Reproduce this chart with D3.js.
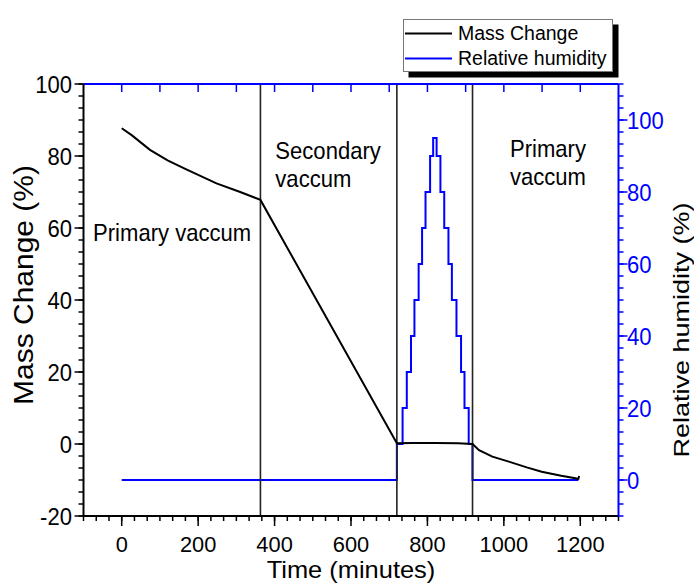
<!DOCTYPE html>
<html><head><meta charset="utf-8">
<script src="https://cdn.jsdelivr.net/npm/d3@7"></script>
<style>
html,body{margin:0;padding:0;background:#fff;}
svg{display:block;font-family:"Liberation Sans",Arial,sans-serif;}
</style></head>
<body>
<svg id="chart" width="694" height="583"></svg>
<script>
// ---- data ----
const massTime  = [0, 26, 74, 120, 169, 248, 310, 363, 720, 760, 820, 880, 918, 935, 970, 1013, 1060, 1099, 1150, 1187, 1195, 1197];
const massValue = [87.7, 85.8, 81.7, 78.8, 76.3, 72.4, 70.0, 67.8, 0.2, 0.3, 0.3, 0.2, 0.0, -1.7, -3.5, -4.9, -6.5, -7.7, -8.8, -9.5, -9.7, -8.9];
const rhTime  = [0, 720, 735, 746, 757, 766, 777, 786, 795, 807, 815, 824, 834, 844, 855, 864, 876, 888, 897, 908, 918, 1195];
const rhValue = [0, 10, 20, 30, 40, 50, 60, 70, 80, 90, 95, 90, 80, 70, 60, 50, 40, 30, 20, 10, 0, 0];
const phaseBounds = [363, 720, 918];
const xTicks  = [0, 200, 400, 600, 800, 1000, 1200];
const yLTicks = [-20, 0, 20, 40, 60, 80, 100];
const yRTicks = [0, 20, 40, 60, 80, 100];
const legendLabels = ["Mass Change", "Relative humidity"];

// ---- layout ----
const svg = d3.select("#chart");
const L = 83.5, R = 618.5, T = 84, B = 516;
const SX = 0.92; // horizontal glyph compression
const x  = d3.scaleLinear().domain([-100, 1300]).range([L, R]);
const yL = d3.scaleLinear().domain([-20, 100]).range([B, T]);
const yR = d3.scaleLinear().domain([-10, 110]).range([B, T]);
const BLUE = "#0000ff";

function text(g, px, py, s, size, anchor, color, rot, sx) {
  return g.append("text")
    .attr("transform", `translate(${px},${py}) scale(${sx || SX},1)` + (rot ? ` rotate(${rot})` : ""))
    .attr("text-anchor", anchor || "start")
    .attr("font-size", size)
    .attr("fill", color || "#000")
    .text(s);
}

const step = 20 / 6;
const minorRange = (a, b, st) => d3.range(Math.ceil(a / st - 1e-9), Math.floor(b / st + 1e-9) + 1).map(k => k * st);

// ---- data lines ----
const rhLine = d3.line().x((d, i) => x(rhTime[i])).y((d, i) => yR(rhValue[i])).curve(d3.curveStepAfter);
svg.append("path").attr("d", rhLine(rhTime)).attr("fill", "none").attr("stroke", BLUE).attr("stroke-width", 2);

// phase boundaries
svg.selectAll("line.phase").data(phaseBounds).enter().append("line")
  .attr("x1", d => x(d)).attr("x2", d => x(d)).attr("y1", T).attr("y2", B)
  .attr("stroke", "#222").attr("stroke-width", 1.6);

const massLine = d3.line().x((d, i) => x(massTime[i])).y((d, i) => yL(massValue[i]));
svg.append("path").attr("d", massLine(massTime)).attr("fill", "none").attr("stroke", "#000").attr("stroke-width", 2);

// ---- axes ----
const ax = svg.append("g");
// bottom
ax.append("line").attr("x1", L).attr("x2", R).attr("y1", B).attr("y2", B).attr("stroke", "#000").attr("stroke-width", 2);
const xMinor = minorRange(-100, 1300, 200 / 6);
ax.selectAll("line.xm").data(xMinor).enter().append("line")
  .attr("x1", d => x(d)).attr("x2", d => x(d)).attr("y1", B).attr("y2", B + 5).attr("stroke", "#000").attr("stroke-width", 1.5);
ax.selectAll("line.xM").data(xTicks).enter().append("line")
  .attr("x1", d => x(d)).attr("x2", d => x(d)).attr("y1", B).attr("y2", B + 10).attr("stroke", "#000").attr("stroke-width", 1.5);
xTicks.forEach(v => text(ax, x(v), 551.5, String(v), 22.5, "middle", "#000", 0, 0.97));
text(ax, (L + R) / 2, 578, "Time (minutes)", 24, "middle", "#000", 0, 1.06);

// top (blue)
ax.append("line").attr("x1", L).attr("x2", R).attr("y1", T).attr("y2", T).attr("stroke", BLUE).attr("stroke-width", 2);
ax.selectAll("line.top").data(d3.range(0, 1201, 100)).enter().append("line")
  .attr("x1", d => x(d)).attr("x2", d => x(d)).attr("y1", T).attr("y2", T + 8).attr("stroke", BLUE).attr("stroke-width", 1.5);

// left
ax.append("line").attr("x1", L).attr("x2", L).attr("y1", T).attr("y2", B).attr("stroke", "#000").attr("stroke-width", 2);
ax.selectAll("line.lm").data(minorRange(-20, 100, step)).enter().append("line")
  .attr("x1", L - 5).attr("x2", L).attr("y1", d => yL(d)).attr("y2", d => yL(d)).attr("stroke", "#000").attr("stroke-width", 1.5);
ax.selectAll("line.lM").data(yLTicks).enter().append("line")
  .attr("x1", L - 9).attr("x2", L).attr("y1", d => yL(d)).attr("y2", d => yL(d)).attr("stroke", "#000").attr("stroke-width", 1.5);
yLTicks.forEach(v => text(ax, 72, yL(v) + 8.5, String(v), 24, "end"));
text(ax, 33, 285, "Mass Change (%)", 30, "middle", "#000", -90);

// right (blue)
ax.append("line").attr("x1", R).attr("x2", R).attr("y1", T).attr("y2", B).attr("stroke", BLUE).attr("stroke-width", 2);
ax.selectAll("line.rm").data(minorRange(-10, 110, step)).enter().append("line")
  .attr("x1", R).attr("x2", R + 5).attr("y1", d => yR(d)).attr("y2", d => yR(d)).attr("stroke", BLUE).attr("stroke-width", 1.5);
ax.selectAll("line.rM").data(yRTicks).enter().append("line")
  .attr("x1", R).attr("x2", R + 9).attr("y1", d => yR(d)).attr("y2", d => yR(d)).attr("stroke", BLUE).attr("stroke-width", 1.5);
yRTicks.forEach(v => text(ax, 627, yR(v) + 8.5, String(v), 24, "start", BLUE));
text(ax, 689, 330, "Relative humidity (%)", 27, "middle", "#000", -90, 0.82);

// ---- annotations ----
const ann = svg.append("g");
text(ann, x(-75), yL((444 - 241) / 3.6), "Primary vaccum", 24, "start");
text(ann, x(402), yL((444 - 159) / 3.6), "Secondary", 24, "start");
text(ann, x(402), yL((444 - 187) / 3.6), "vaccum", 24, "start");
text(ann, x(1016), yL((444 - 157) / 3.6), "Primary", 24, "start");
text(ann, x(1016), yL((444 - 185) / 3.6), "vaccum", 24, "start");

// ---- legend ----
const lg = svg.append("g");
lg.append("rect").attr("x", 408.5).attr("y", 24.5).attr("width", 210).attr("height", 53).attr("fill", "#000");
lg.append("rect").attr("x", 403.5).attr("y", 19.5).attr("width", 209).attr("height", 52).attr("fill", "#fff").attr("stroke", "#777").attr("stroke-width", 1);
const lgColors = ["#000", BLUE];
legendLabels.forEach((s, i) => {
  const yy = 33.5 + i * 25;
  lg.append("line").attr("x1", 405).attr("x2", 452).attr("y1", yy).attr("y2", yy).attr("stroke", lgColors[i]).attr("stroke-width", 2);
  lg.append("text").attr("x", 458).attr("y", yy + 6.5).attr("font-size", 19.5).attr("fill", "#000").text(s);
});
</script>
</body></html>
